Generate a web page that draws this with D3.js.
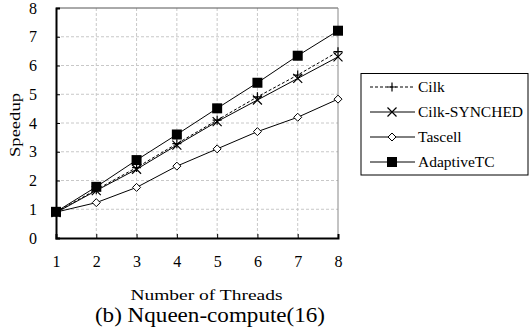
<!DOCTYPE html>
<html><head><meta charset="utf-8">
<script src="https://cdn.jsdelivr.net/npm/d3@7"></script>
<style>body{margin:0;background:#fff}</style>
</head><body><svg id="c" width="531" height="327" font-family="Liberation Serif"></svg>
<script>
const threads = [1,2,3,4,5,6,7,8];
const cilk = [0.9,1.68,2.45,3.28,4.1,4.91,5.67,6.48];
const cilkSynched = [0.88,1.65,2.39,3.23,4.05,4.8,5.55,6.3];
const tascell = [0.9,1.23,1.76,2.5,3.1,3.7,4.2,4.83];
const adaptiveTC = [0.91,1.78,2.71,3.6,4.51,5.4,6.34,7.21];
const yTicks = [0,1,2,3,4,5,6,7,8];
const seriesNames = ["Cilk","Cilk-SYNCHED","Tascell","AdaptiveTC"];

const FF = "Liberation Serif";
const svg = d3.select("#c");
const L=56,R=338,T=8,B=238;
const x = d3.scaleLinear().domain([1,8]).range([L,R]);
const y = d3.scaleLinear().domain([0,8]).range([B,T]);

// grid
const g = svg.append("g");
g.selectAll(".vg").data(threads.slice(1,-1)).join("line")
 .attr("x1",d=>x(d)).attr("x2",d=>x(d)).attr("y1",T).attr("y2",B)
 .attr("stroke","#c8c8c8").attr("stroke-dasharray","3,2");
g.selectAll(".hg").data(yTicks.slice(1,-1)).join("line")
 .attr("x1",L).attr("x2",R).attr("y1",d=>y(d)).attr("y2",d=>y(d))
 .attr("stroke","#c8c8c8").attr("stroke-dasharray","3,2");
svg.append("line").attr("x1",L).attr("x2",R).attr("y1",T).attr("y2",T).attr("stroke","#555");
svg.append("line").attr("x1",R).attr("x2",R).attr("y1",T).attr("y2",B).attr("stroke","#888");

// axes
const xAxis = svg.append("g").attr("transform",`translate(0,${B})`)
 .call(d3.axisBottom(x).tickValues(threads).tickSize(-4).tickPadding(18).tickFormat(d3.format("d")));
const yAxis = svg.append("g").attr("transform",`translate(${L},0)`)
 .call(d3.axisLeft(y).tickValues(yTicks).tickSize(-4).tickPadding(19).tickFormat(d3.format("d")));
[xAxis,yAxis].forEach(a=>{
  a.attr("font-family",FF).attr("font-size",16);
  a.select(".domain").attr("stroke","#000").attr("stroke-width",2);
  a.selectAll(".tick line").attr("stroke","#000");
  a.selectAll("text").attr("fill","#000");
});
yAxis.selectAll("text").attr("dy","0.32em");

function txt(){ return svg.append("text").attr("font-family",FF).attr("fill","#000").attr("text-anchor","middle"); }
txt().attr("transform","translate(206.5,300) scale(1.3,1)").attr("font-size",15).text("Number of Threads");
txt().attr("transform",`translate(20,125) rotate(-90) scale(1.24,1)`).attr("font-size",15).text("Speedup");
txt().attr("transform","translate(210,322) scale(1.1,1)").attr("font-size",21).text("(b) Nqueen-compute(16)");

function marker(sel, type){
  if(type==="plus"){
    sel.append("path").attr("d","M-4.5,0H4.5M0,-4.5V4.5").attr("stroke","#000").attr("stroke-width",1.2).attr("fill","none");
  } else if(type==="x"){
    sel.append("path").attr("d","M-4.5,-4.5L4.5,4.5M-4.5,4.5L4.5,-4.5").attr("stroke","#000").attr("stroke-width",1.2).attr("fill","none");
  } else if(type==="diamond"){
    sel.append("path").attr("d","M0,-4L4,0L0,4L-4,0Z").attr("stroke","#000").attr("stroke-width",1).attr("fill","#fff");
  } else {
    sel.append("rect").attr("x",-5).attr("y",-5).attr("width",10).attr("height",10).attr("fill","#000");
  }
}
const series = [
  {name:seriesNames[0],vals:cilk,type:"plus",dash:"3,2"},
  {name:seriesNames[1],vals:cilkSynched,type:"x",dash:null},
  {name:seriesNames[2],vals:tascell,type:"diamond",dash:null},
  {name:seriesNames[3],vals:adaptiveTC,type:"square",dash:null}
];
const line = d3.line().x((d,i)=>x(threads[i])).y(d=>y(d));
series.forEach(s=>{
  svg.append("path").datum(s.vals).attr("d",line).attr("fill","none").attr("stroke","#000")
   .attr("stroke-width",1).attr("stroke-dasharray",s.dash);
  svg.append("g").selectAll("g").data(s.vals).join("g")
   .attr("transform",(d,i)=>`translate(${x(threads[i])},${y(d)})`)
   .each(function(){marker(d3.select(this),s.type);});
});

// legend
const lg = svg.append("g");
lg.append("rect").attr("x",361).attr("y",73.5).attr("width",167).attr("height",101.5)
 .attr("fill","#fff").attr("stroke","#000");
series.forEach((s,i)=>{
  const yy = 87+i*25;
  lg.append("line").attr("x1",370).attr("x2",415).attr("y1",yy).attr("y2",yy)
   .attr("stroke","#000").attr("stroke-dasharray",s.dash);
  marker(lg.append("g").attr("transform",`translate(392,${yy})`), s.type);
  lg.append("text").attr("font-family",FF).attr("fill","#000").attr("x",418).attr("y",yy).attr("dy","0.33em").attr("font-size",15.5).text(s.name);
});
</script></body></html>
